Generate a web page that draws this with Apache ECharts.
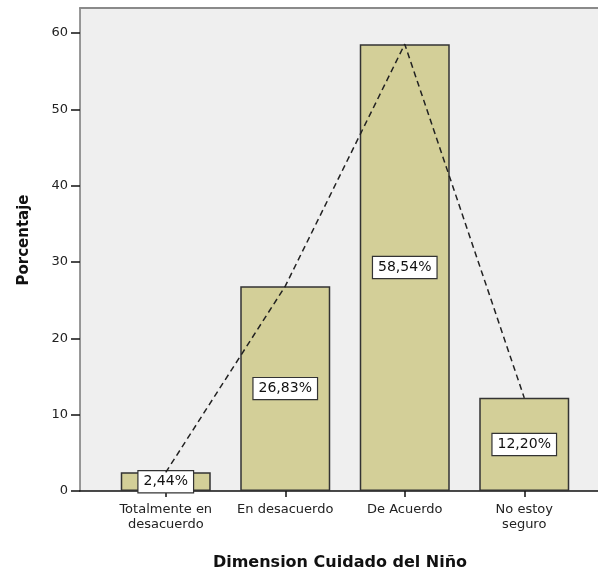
<!DOCTYPE html>
<html>
<head>
<meta charset="utf-8">
<script src="https://cdn.jsdelivr.net/npm/echarts@6/dist/echarts.min.js"></script>
<style>
  html, body { margin: 0; padding: 0; background: #ffffff; }
  #chart { width: 598px; height: 580px; }
</style>
</head>
<body>
<div id="chart"></div>
<script>
// Dimension Cuidado del Niño — porcentaje por categoría de respuesta
var categories = ['Totalmente en\ndesacuerdo', 'En desacuerdo', 'De Acuerdo', 'No estoy\nseguro'];
var percentages = [2.44, 26.83, 58.54, 12.20];
var yTicks = [0, 10, 20, 30, 40, 50, 60];

var FONT = '"DejaVu Sans", "Liberation Sans", Arial, sans-serif';

function pct(v) {
  return v.toFixed(2).replace('.', ',') + '%';
}

var chart = echarts.init(document.getElementById('chart'), null, { renderer: 'canvas' });

chart.setOption({
  backgroundColor: '#ffffff',
  animation: false,
  grid: [
    // framed plot background (open on the right)
    { left: 80, right: -6, top: 8, bottom: 89, show: true, backgroundColor: '#efefef', borderWidth: 0 },
    // data area
    { left: 106, right: 14, top: 33, bottom: 89 }
  ],
  xAxis: [
    {
      gridIndex: 0, type: 'value', min: 0, max: 1, position: 'bottom',
      axisLine: { show: true, lineStyle: { color: '#111', width: 1.5 } },
      axisTick: { show: false }, axisLabel: { show: false }, splitLine: { show: false }
    },
    {
      gridIndex: 0, type: 'value', min: 0, max: 1, position: 'top',
      axisLine: { show: true, lineStyle: { color: '#8a8a8a', width: 2 } },
      axisTick: { show: false }, axisLabel: { show: false }, splitLine: { show: false }
    },
    {
      gridIndex: 1, type: 'category', data: categories,
      boundaryGap: true,
      axisLine: { show: false },
      axisTick: { show: true, alignWithLabel: true, length: 6, lineStyle: { color: '#111', width: 1.5 } },
      axisLabel: { color: '#222', fontFamily: FONT, fontSize: 13, lineHeight: 15, margin: 11, interval: 0 },
      name: 'Dimension Cuidado del Niño',
      nameLocation: 'middle',
      nameGap: 64,
      nameTextStyle: { color: '#111', fontFamily: FONT, fontSize: 16, fontWeight: 'bold', padding: [0, 10, 0, 0] }
    }
  ],
  yAxis: [
    {
      gridIndex: 0, type: 'value', min: 0, max: 1,
      axisLine: { show: true, lineStyle: { color: '#777', width: 1.5 } },
      axisTick: { show: false }, axisLabel: { show: false }, splitLine: { show: false }
    },
    {
      gridIndex: 1, type: 'value', min: yTicks[0], max: yTicks[yTicks.length - 1], interval: 10,
      offset: 26,
      axisLine: { show: false },
      axisTick: { show: true, length: 9, lineStyle: { color: '#111', width: 1.5 } },
      axisLabel: { color: '#222', fontFamily: FONT, fontSize: 13, margin: 12 },
      splitLine: { show: false },
      name: 'Porcentaje',
      nameLocation: 'middle',
      nameGap: 48,
      nameRotate: 90,
      nameTextStyle: { color: '#111', fontFamily: FONT, fontSize: 15, fontWeight: 'bold', padding: [0, 0, 0, 44] }
    }
  ],
  series: [
    {
      type: 'bar',
      xAxisIndex: 2, yAxisIndex: 1,
      data: percentages,
      barWidth: 90,
      itemStyle: { color: '#d3cf98', borderColor: '#333', borderWidth: 1.5 },
      label: {
        show: true,
        position: 'inside',
        formatter: function (p) { return pct(p.value); },
        color: '#111',
        fontFamily: FONT,
        fontSize: 14,
        backgroundColor: '#ffffff',
        borderColor: '#333',
        borderWidth: 1.2,
        padding: [4, 5, 3, 5]
      },
      z: 2
    },
    {
      type: 'line',
      xAxisIndex: 2, yAxisIndex: 1,
      data: percentages,
      symbol: 'none',
      lineStyle: { color: '#222', width: 1.5, type: [6, 4] },
      z: 3
    }
  ]
});
</script>
</body>
</html>
